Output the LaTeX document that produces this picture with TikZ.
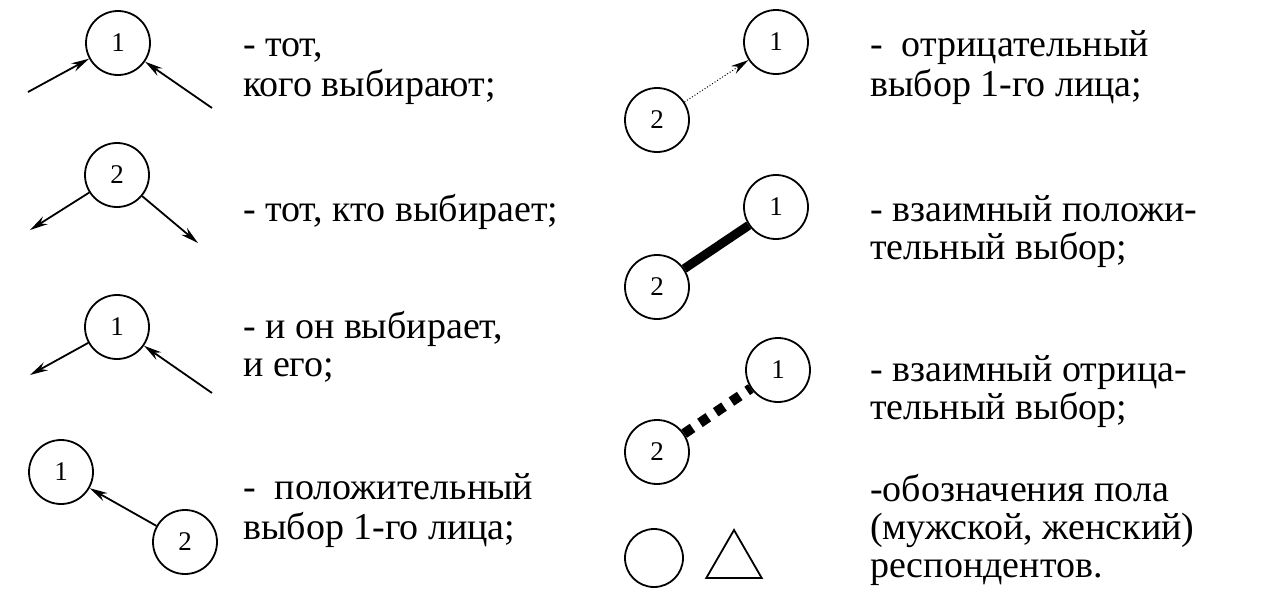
\documentclass[tikz,border=0pt]{standalone}
\usepackage{fontspec}
\setmainfont{Liberation Serif}
\usetikzlibrary{arrows.meta,shapes.geometric}
\begin{document}
\begin{tikzpicture}[x=1pt,y=-1pt,
  person/.style={circle,draw,line width=1.8pt,minimum size=64pt,inner sep=0pt,font=\fontsize{27}{27}\selectfont},
  choice/.style={line width=1.8pt,-{Stealth[length=18pt,width=9pt]}},
  lbl/.style={anchor=base west,inner sep=0pt,font=\fontsize{38}{38}\selectfont}]
\useasboundingbox (0,0) rectangle (1262,603);
% row 1 left
\node[person] (a1) at (118,43) {1};
\coordinate (a1l) at (28,92);
\coordinate (a1r) at (212,108);
\draw[choice] (a1l) -- (a1);
\draw[choice] (a1r) -- (a1);
\node[lbl] (t1a) at (243,56) {- тот,};
\node[lbl] (t1b) at (243,96) {кого выбирают;};
% row 2 left
\node[person] (a2) at (117,175) {2};
\coordinate (a2l) at (30,230);
\coordinate (a2r) at (198,243);
\draw[choice] (a2) -- (a2l);
\draw[choice] (a2) -- (a2r);
\node[lbl] (t2) at (243,221) {- тот, кто выбирает;};
% row 3 left
\node[person] (a3) at (117,327) {1};
\coordinate (a3l) at (30,375);
\coordinate (a3r) at (212,393);
\draw[choice] (a3) -- (a3l);
\draw[choice] (a3r) -- (a3);
\node[lbl] (t3a) at (243,338) {- и он выбирает,};
\node[lbl] (t3b) at (243,376) {и его;};
% row 4 left
\node[person] (a4a) at (61,472) {1};
\node[person] (a4b) at (185,542) {2};
\draw[choice] (a4b) -- (a4a);
\node[lbl] (t4a) at (243,499) {- \ положительный};
\node[lbl] (t4b) at (243,539) {выбор 1-го лица;};
% row 1 right
\node[person] (b1a) at (776,42) {1};
\node[person] (b1b) at (657,120) {2};
\draw[line width=1pt,dotted,-{Stealth[length=18pt,width=9pt]}] (b1b) -- (b1a);
\node[lbl] (u1a) at (870,56) {- \ отрицательный};
\node[lbl] (u1b) at (870,96) {выбор 1-го лица;};
% row 2 right
\node[person] (b2a) at (776,207) {1};
\node[person] (b2b) at (657,287) {2};
\draw[line width=9pt] (b2b) -- (b2a);
\node[lbl] (u2a) at (870,221) {- взаимный положи-};
\node[lbl] (u2b) at (870,259) {тельный выбор;};
% row 3 right
\node[person] (b3a) at (778,370) {1};
\node[person] (b3b) at (657,452) {2};
\draw[line width=10pt,dash pattern=on 10pt off 9pt] (b3b) -- (b3a);
\node[lbl] (u3a) at (870,381) {- взаимный отрица-};
\node[lbl] (u3b) at (870,419) {тельный выбор;};
% row 4 right
\node[circle,draw,line width=1.8pt,minimum size=58pt,inner sep=0pt] (male) at (654,558) {};
\node[regular polygon,regular polygon sides=3,draw,line width=1.8pt,minimum size=64pt,inner sep=0pt] (female) at (734,562) {};
\node[lbl] (u4a) at (870,501) {-обозначения пола};
\node[lbl] (u4b) at (870,539) {(мужской, женский)};
\node[lbl] (u4c) at (870,577) {респондентов.};
\end{tikzpicture}
\end{document}
